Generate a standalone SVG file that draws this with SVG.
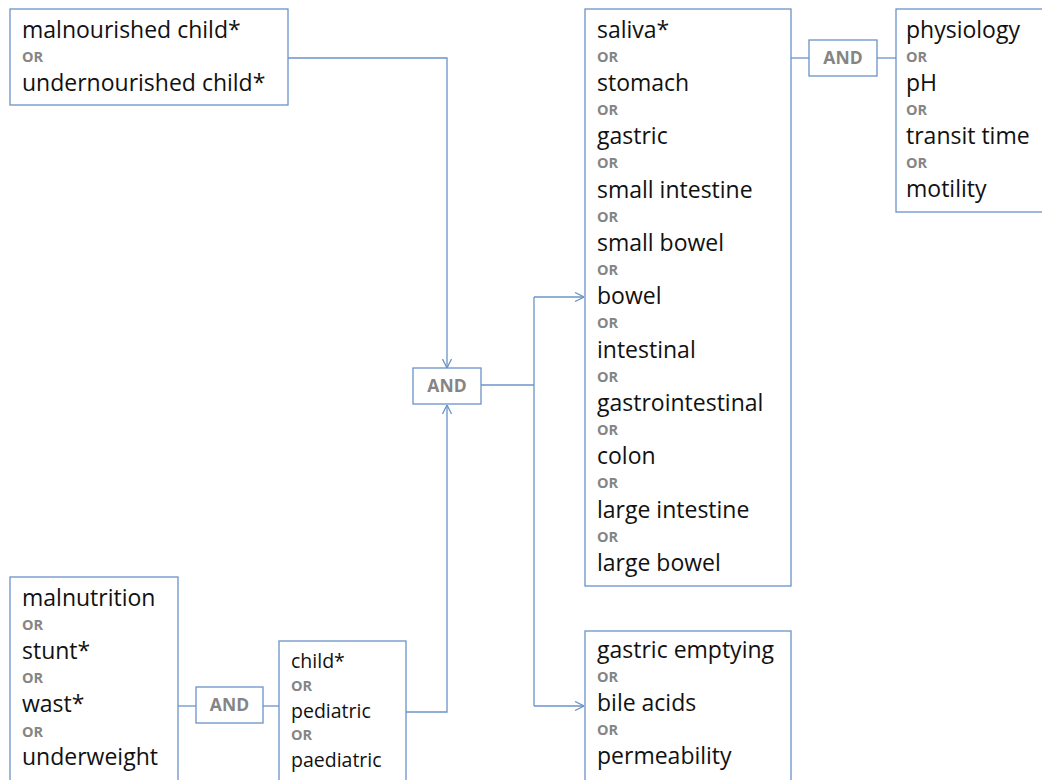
<svg xmlns="http://www.w3.org/2000/svg" width="1042" height="780" viewBox="0 0 1042 780">
<defs>
<style>
.box{fill:#fff;stroke:#6b93c9;stroke-width:1.3}
.ln{fill:none;stroke:#6b93c9;stroke-width:1.3}
.t{font-family:"Open Sans","DejaVu Sans",sans-serif;font-size:23px;fill:#111}
.ts{font-family:"Open Sans","DejaVu Sans",sans-serif;font-size:19.5px;fill:#111}
.or{font-family:"Open Sans","DejaVu Sans",sans-serif;font-size:14.5px;font-weight:bold;fill:#858585}
.and{font-family:"Open Sans","DejaVu Sans",sans-serif;font-size:17.5px;font-weight:bold;fill:#858585;text-anchor:middle}
</style>
<marker id="arr" viewBox="0 0 10 10" refX="10" refY="5" markerWidth="10" markerHeight="10" markerUnits="userSpaceOnUse" orient="auto">
<path d="M1,0.5 L10,5 L1,9.5" fill="none" stroke="#6b93c9" stroke-width="1.3"/>
</marker>
</defs>
<rect width="1042" height="780" fill="#fff"/>
<g id="connectors">
<path class="ln" d="M288,58 H447 V368" marker-end="url(#arr)"/>
<path class="ln" d="M406,712 H447 V405" marker-end="url(#arr)"/>
<path class="ln" d="M481,385 H534"/>
<path class="ln" d="M534,297 V706"/>
<path class="ln" d="M534,297 H584" marker-end="url(#arr)"/>
<path class="ln" d="M534,706 H584" marker-end="url(#arr)"/>
<path class="ln" d="M791,58 H809"/>
<path class="ln" d="M877,58 H896"/>
<path class="ln" d="M178,706 H196"/>
<path class="ln" d="M263,706 H279"/>
</g>
<g id="node-malnourished">
<rect class="box" x="10" y="9" width="278" height="96"/>
<text class="t" x="22" y="38">malnourished child*</text>
<text class="or" x="22" y="62">OR</text>
<text class="t" x="22" y="91">undernourished child*</text>
</g>
<g id="node-and-center">
<rect class="box" x="413" y="368" width="68" height="36"/>
<text class="and" x="447" y="392">AND</text>
</g>
<g id="node-sites">
<rect class="box" x="585" y="9" width="206" height="577"/>
<text class="t" x="597" y="38">saliva*</text>
<text class="or" x="597" y="62">OR</text>
<text class="t" x="597" y="91">stomach</text>
<text class="or" x="597" y="115">OR</text>
<text class="t" x="597" y="144">gastric</text>
<text class="or" x="597" y="168">OR</text>
<text class="t" x="597" y="198">small intestine</text>
<text class="or" x="597" y="222">OR</text>
<text class="t" x="597" y="251">small bowel</text>
<text class="or" x="597" y="275">OR</text>
<text class="t" x="597" y="304">bowel</text>
<text class="or" x="597" y="328">OR</text>
<text class="t" x="597" y="358">intestinal</text>
<text class="or" x="597" y="382">OR</text>
<text class="t" x="597" y="411">gastrointestinal</text>
<text class="or" x="597" y="435">OR</text>
<text class="t" x="597" y="464">colon</text>
<text class="or" x="597" y="488">OR</text>
<text class="t" x="597" y="518">large intestine</text>
<text class="or" x="597" y="542">OR</text>
<text class="t" x="597" y="571">large bowel</text>
</g>
<g id="node-and-right">
<rect class="box" x="809" y="40" width="68" height="36"/>
<text class="and" x="843" y="64">AND</text>
</g>
<g id="node-physiology">
<rect class="box" x="896" y="9" width="160" height="203"/>
<text class="t" x="906" y="38">physiology</text>
<text class="or" x="906" y="62">OR</text>
<text class="t" x="906" y="91">pH</text>
<text class="or" x="906" y="115">OR</text>
<text class="t" x="906" y="144">transit time</text>
<text class="or" x="906" y="168">OR</text>
<text class="t" x="906" y="197">motility</text>
</g>
<g id="node-malnutrition">
<rect class="box" x="10" y="577" width="168" height="220"/>
<text class="t" x="22" y="606">malnutrition</text>
<text class="or" x="22" y="630">OR</text>
<text class="t" x="22" y="659">stunt*</text>
<text class="or" x="22" y="683">OR</text>
<text class="t" x="22" y="712">wast*</text>
<text class="or" x="22" y="737">OR</text>
<text class="t" x="22" y="765">underweight</text>
</g>
<g id="node-and-bottom">
<rect class="box" x="196" y="687" width="67" height="36"/>
<text class="and" x="229.5" y="711">AND</text>
</g>
<g id="node-child">
<rect class="box" x="279" y="641" width="127" height="160"/>
<text class="ts" x="291" y="668">child*</text>
<text class="or" x="291" y="691">OR</text>
<text class="ts" x="291" y="718">pediatric</text>
<text class="or" x="291" y="740">OR</text>
<text class="ts" x="291" y="767">paediatric</text>
</g>
<g id="node-gastric-emptying">
<rect class="box" x="585" y="631" width="206" height="170"/>
<text class="t" x="597" y="658">gastric emptying</text>
<text class="or" x="597" y="682">OR</text>
<text class="t" x="597" y="711">bile acids</text>
<text class="or" x="597" y="735">OR</text>
<text class="t" x="597" y="764">permeability</text>
</g>
</svg>
